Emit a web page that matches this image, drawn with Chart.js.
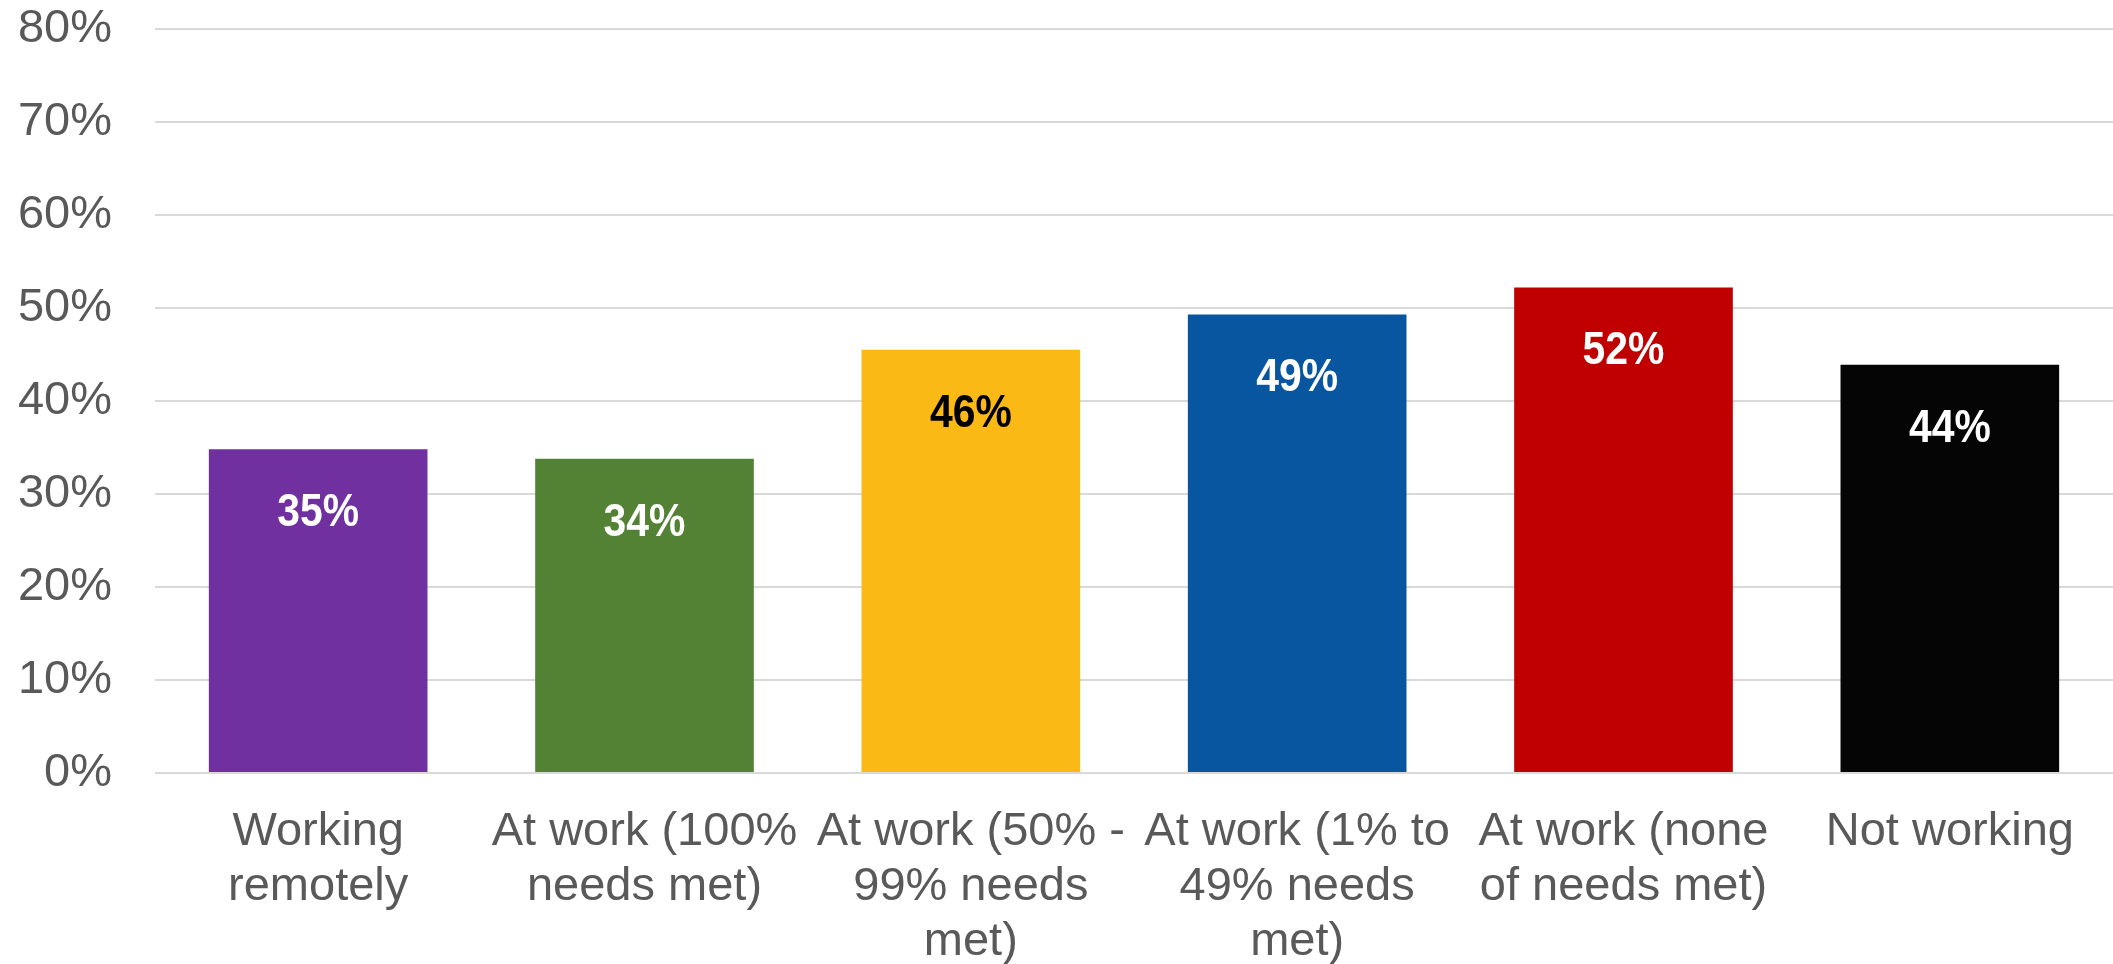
<!DOCTYPE html>
<html>
<head>
<meta charset="utf-8">
<script src="https://cdn.jsdelivr.net/npm/chart.js@4/dist/chart.umd.min.js"></script>
<style>
    html, body { margin: 0; padding: 0; background: #fff; }
    #wrap { width: 2113px; height: 964px; }
</style>
</head>
<body>
<div id="wrap"><canvas id="graph"></canvas></div>
<script>
'use strict';

const categories = [
    ['Working', 'remotely'],
    ['At work (100%', 'needs met)'],
    ['At work (50% -', '99% needs', 'met)'],
    ['At work (1% to', '49% needs', 'met)'],
    ['At work (none', 'of needs met)'],
    ['Not working']
];
const shares = [34.8, 33.8, 45.5, 49.3, 52.2, 43.9];
const barColors = ['#7030A0', '#548235', '#FBB915', '#07569F', '#C00000', '#050505'];
const labelColors = ['#FFFFFF', '#FFFFFF', '#000000', '#FFFFFF', '#FFFFFF', '#FFFFFF'];
const yTicks = [0, 10, 20, 30, 40, 50, 60, 70, 80];

// value labels sit inside the top of each bar, in a slightly narrowed bold face
const barLabels = {
    id: 'barLabels',
    afterDatasetsDraw(chart) {
        const ctx = chart.ctx;
        const meta = chart.getDatasetMeta(0);
        meta.data.forEach(function (bar, i) {
            ctx.save();
            ctx.font = 'bold 47px "Liberation Sans", Arial, sans-serif';
            ctx.textAlign = 'center';
            ctx.textBaseline = 'middle';
            ctx.fillStyle = labelColors[i];
            ctx.translate(bar.x, bar.y + 64);
            ctx.scale(0.87, 1);
            ctx.fillText(Math.round(shares[i]) + '%', 0, 0);
            ctx.restore();
        });
    }
};

new Chart('graph', {
    type: 'bar',
    data: {
        labels: categories,
        datasets: [{
            data: shares,
            backgroundColor: barColors,
            categoryPercentage: 0.67,
            barPercentage: 1
        }]
    },
    plugins: [barLabels],
    options: {
        responsive: true,
        maintainAspectRatio: false,
        animation: false,
        layout: { padding: { top: 29, right: 0, left: 0, bottom: 0 } },
        plugins: {
            legend: { display: false },
            tooltip: { enabled: false }
        },
        scales: {
            x: {
                grid: { display: false },
                border: { display: false },
                ticks: {
                    color: '#595959',
                    font: { family: '"Liberation Sans", Arial, sans-serif', size: 47, lineHeight: 1.17 },
                    maxRotation: 0,
                    autoSkip: false,
                    padding: 24
                },
                afterFit(scale) {
                    scale.height = 191;
                    scale.paddingLeft = 0;
                    scale.paddingRight = 0;
                }
            },
            y: {
                min: 0,
                max: 80,
                afterBuildTicks(scale) {
                    scale.ticks = yTicks.map(function (v) { return { value: v }; });
                },
                grid: { color: '#D9D9D9', lineWidth: 2, drawTicks: false },
                border: { display: false },
                ticks: {
                    color: '#595959',
                    font: { family: '"Liberation Sans", Arial, sans-serif', size: 47 },
                    padding: 43,
                    callback: function (v) { return v + '%'; }
                },
                afterFit(scale) {
                    scale.width = 155;
                    scale.paddingTop = 0;
                    scale.paddingBottom = 0;
                }
            }
        }
    }
});
</script>
</body>
</html>
